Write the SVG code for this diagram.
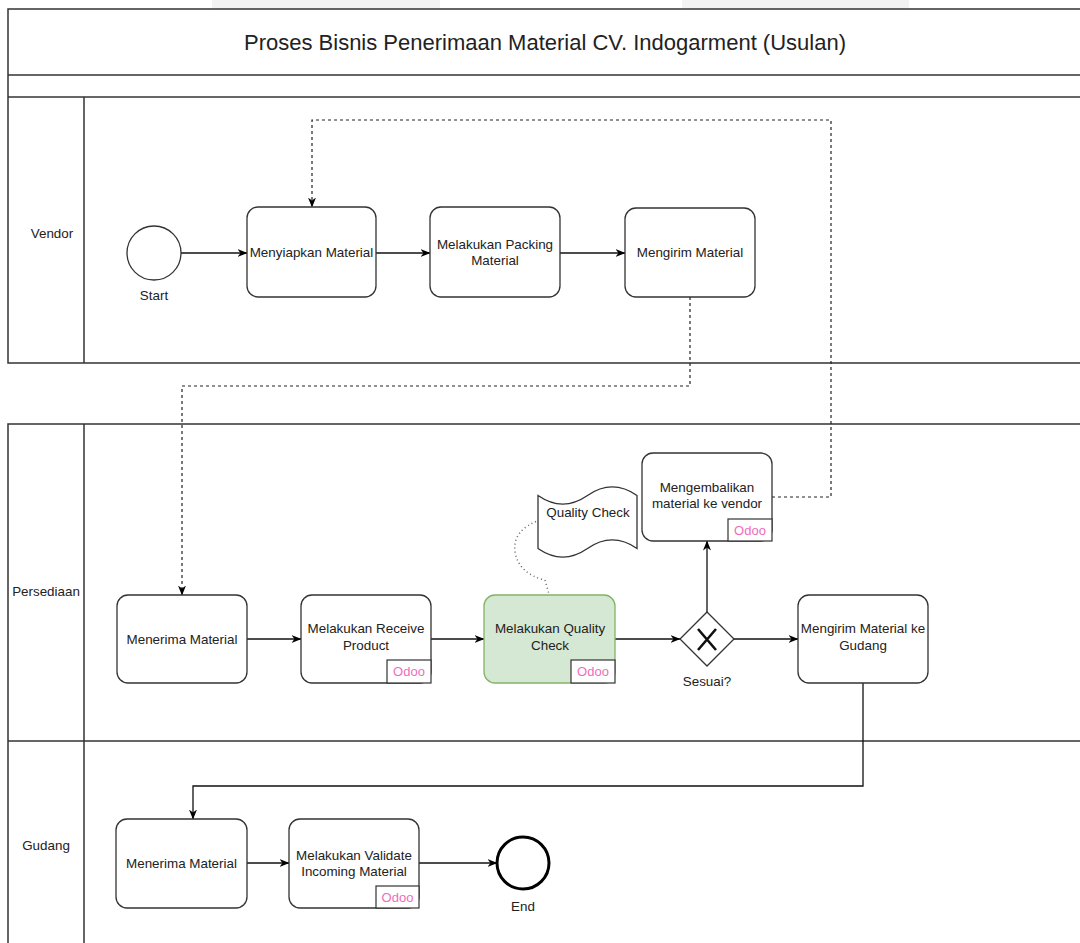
<svg xmlns="http://www.w3.org/2000/svg" width="1080" height="943" viewBox="0 0 1080 943">
  <style>
    .pool { fill: none; stroke: #333; stroke-width: 1.5; }
    .task { fill: #fff; stroke: #333; stroke-width: 1.3; }
    .task-green { fill: #d5e8d4; stroke: #82b366; stroke-width: 1.3; }
    .tag { fill: #fff; stroke: #333; stroke-width: 1.2; }
    .lbl { font-family: "Liberation Sans", Arial, sans-serif; font-size: 13.4px; fill: #222; text-anchor: middle; }
    .odoo { font-family: "Liberation Sans", Arial, sans-serif; font-size: 13px; fill: #f06cbc; text-anchor: middle; }
    .title { font-family: "Liberation Sans", Arial, sans-serif; font-size: 22px; fill: #222; text-anchor: middle; }
    .flow { fill: none; stroke: #111; stroke-width: 1.3; }
    .msg { fill: none; stroke: #222; stroke-width: 1.2; stroke-dasharray: 3 3; }
    .assoc { fill: none; stroke: #666; stroke-width: 1.5; stroke-dasharray: 1 3; }
  </style>
  <defs>
    <marker id="arr" viewBox="0 0 10 10" refX="9.5" refY="5" markerWidth="10" markerHeight="10" markerUnits="userSpaceOnUse" orient="auto">
      <path d="M0,1 L10,5 L0,9 L3,5 Z" fill="#000"/>
    </marker>
  </defs>

  <rect width="1080" height="943" fill="#fff"/>
  <!-- toolbar strips along the top edge -->
  <rect x="212" y="0" width="228" height="9" fill="#f2f2f2"/>
  <rect x="682" y="0" width="227" height="9" fill="#f2f2f2"/>

  <!-- pool 1: title band and Vendor lane -->
  <g id="pool-vendor">
    <path class="pool" d="M1082,9 L8,9 L8,363 L1082,363"/>
    <line class="pool" x1="8" y1="75" x2="1082" y2="75" stroke="#555" stroke-width="2"/>
    <line class="pool" x1="8" y1="97" x2="1082" y2="97"/>
    <line class="pool" x1="84" y1="97" x2="84" y2="363"/>
    <text class="title" x="545" y="50">Proses Bisnis Penerimaan Material CV. Indogarment (Usulan)</text>
    <text class="lbl" x="52" y="238">Vendor</text>
  </g>

  <!-- pool 2: Persediaan and Gudang lanes -->
  <g id="pool-internal">
    <path class="pool" d="M1082,424 L8,424 L8,950"/>
    <line class="pool" x1="8" y1="741" x2="1082" y2="741"/>
    <line class="pool" x1="84" y1="424" x2="84" y2="950"/>
    <text class="lbl" x="46" y="596">Persediaan</text>
    <text class="lbl" x="46" y="850">Gudang</text>
  </g>

  <!-- connectors -->
  <g id="connectors">
    <path class="flow" d="M181,253 L247,253" marker-end="url(#arr)"/>
    <path class="flow" d="M376,253 L430,253" marker-end="url(#arr)"/>
    <path class="flow" d="M560,253 L625,253" marker-end="url(#arr)"/>
    <path class="msg" d="M690,297 L690,386 L182,386 L182,595" marker-end="url(#arr)"/>
    <path class="msg" d="M772,497 L831,497 L831,120 L312,120 L312,207" marker-end="url(#arr)"/>
    <path class="flow" d="M247,639 L301,639" marker-end="url(#arr)"/>
    <path class="flow" d="M431,639 L484,639" marker-end="url(#arr)"/>
    <path class="flow" d="M615,639 L680,639" marker-end="url(#arr)"/>
    <path class="flow" d="M734,639 L798,639" marker-end="url(#arr)"/>
    <path class="flow" d="M707,612 L707,541" marker-end="url(#arr)"/>
    <path class="flow" d="M863,683 L863,786 L193,786 L193,819" marker-end="url(#arr)"/>
    <path class="flow" d="M247,863 L289,863" marker-end="url(#arr)"/>
    <path class="flow" d="M419,863 L497,863" marker-end="url(#arr)"/>
    <path class="assoc" d="M540,520 Q512,530 515,552 Q519,574 545,580 L549,594"/>
  </g>

  <!-- Vendor lane -->
  <g id="start">
    <circle cx="154" cy="253" r="27" fill="#fff" stroke="#333" stroke-width="1.3"/>
    <text class="lbl" x="154" y="300">Start</text>
  </g>
  <g id="menyiapkan-material">
    <rect class="task" x="247" y="207" width="129" height="90" rx="11"/>
    <text class="lbl" x="311.5" y="257">Menyiapkan Material</text>
  </g>
  <g id="packing-material">
    <rect class="task" x="430" y="207" width="130" height="90" rx="11"/>
    <text class="lbl" x="495" y="249">Melakukan Packing</text>
    <text class="lbl" x="495" y="265">Material</text>
  </g>
  <g id="mengirim-material">
    <rect class="task" x="625" y="208" width="130" height="89" rx="11"/>
    <text class="lbl" x="690" y="257">Mengirim Material</text>
  </g>

  <!-- Persediaan lane -->
  <g id="menerima-material-persediaan">
    <rect class="task" x="117" y="595" width="130" height="88" rx="11"/>
    <text class="lbl" x="182" y="644">Menerima Material</text>
  </g>
  <g id="receive-product">
    <rect class="task" x="301" y="595" width="130" height="88" rx="11"/>
    <text class="lbl" x="366" y="633">Melakukan Receive</text>
    <text class="lbl" x="366" y="650">Product</text>
    <rect class="tag" x="387" y="660" width="44" height="23"/>
    <text class="odoo" x="409" y="676">Odoo</text>
  </g>
  <g id="quality-check">
    <rect class="task-green" x="484" y="595" width="131" height="88" rx="11"/>
    <text class="lbl" x="550" y="633">Melakukan Quality</text>
    <text class="lbl" x="550" y="650">Check</text>
    <rect class="tag" x="571" y="660" width="44" height="23"/>
    <text class="odoo" x="593" y="676">Odoo</text>
  </g>
  <g id="quality-check-doc">
    <path d="M538,495.5 Q562.75,512.6 587.5,495.5 Q612.25,478.4 637,495.5 L637,548.5 Q612.25,531.4 587.5,548.5 Q562.75,565.6 538,548.5 Z" fill="#fff" stroke="#333" stroke-width="1.3"/>
    <text class="lbl" x="588" y="517">Quality Check</text>
  </g>
  <g id="gateway-sesuai">
    <path d="M707,612 L734,639 L707,666 L680,639 Z" fill="#fff" stroke="#333" stroke-width="1.3"/>
    <path d="M698,629 L716,650 M716,629 L698,650" stroke="#111" stroke-width="2.6" fill="none"/>
    <text class="lbl" x="707" y="686">Sesuai?</text>
  </g>
  <g id="mengembalikan-material">
    <rect class="task" x="642" y="453" width="130" height="88" rx="11"/>
    <text class="lbl" x="707" y="492">Mengembalikan</text>
    <text class="lbl" x="707" y="508">material ke vendor</text>
    <rect class="tag" x="728" y="519" width="44" height="22"/>
    <text class="odoo" x="750" y="535">Odoo</text>
  </g>
  <g id="mengirim-ke-gudang">
    <rect class="task" x="798" y="595" width="130" height="88" rx="11"/>
    <text class="lbl" x="863" y="633">Mengirim Material ke</text>
    <text class="lbl" x="863" y="650">Gudang</text>
  </g>

  <!-- Gudang lane -->
  <g id="menerima-material-gudang">
    <rect class="task" x="116" y="819" width="131" height="89" rx="11"/>
    <text class="lbl" x="181.5" y="868">Menerima Material</text>
  </g>
  <g id="validate-incoming">
    <rect class="task" x="289" y="819" width="130" height="89" rx="11"/>
    <text class="lbl" x="354" y="860">Melakukan Validate</text>
    <text class="lbl" x="354" y="876">Incoming Material</text>
    <rect class="tag" x="376" y="886" width="43" height="22"/>
    <text class="odoo" x="397.5" y="902">Odoo</text>
  </g>
  <g id="end">
    <circle cx="523" cy="863" r="26" fill="#fff" stroke="#000" stroke-width="3"/>
    <text class="lbl" x="523" y="911">End</text>
  </g>
</svg>
